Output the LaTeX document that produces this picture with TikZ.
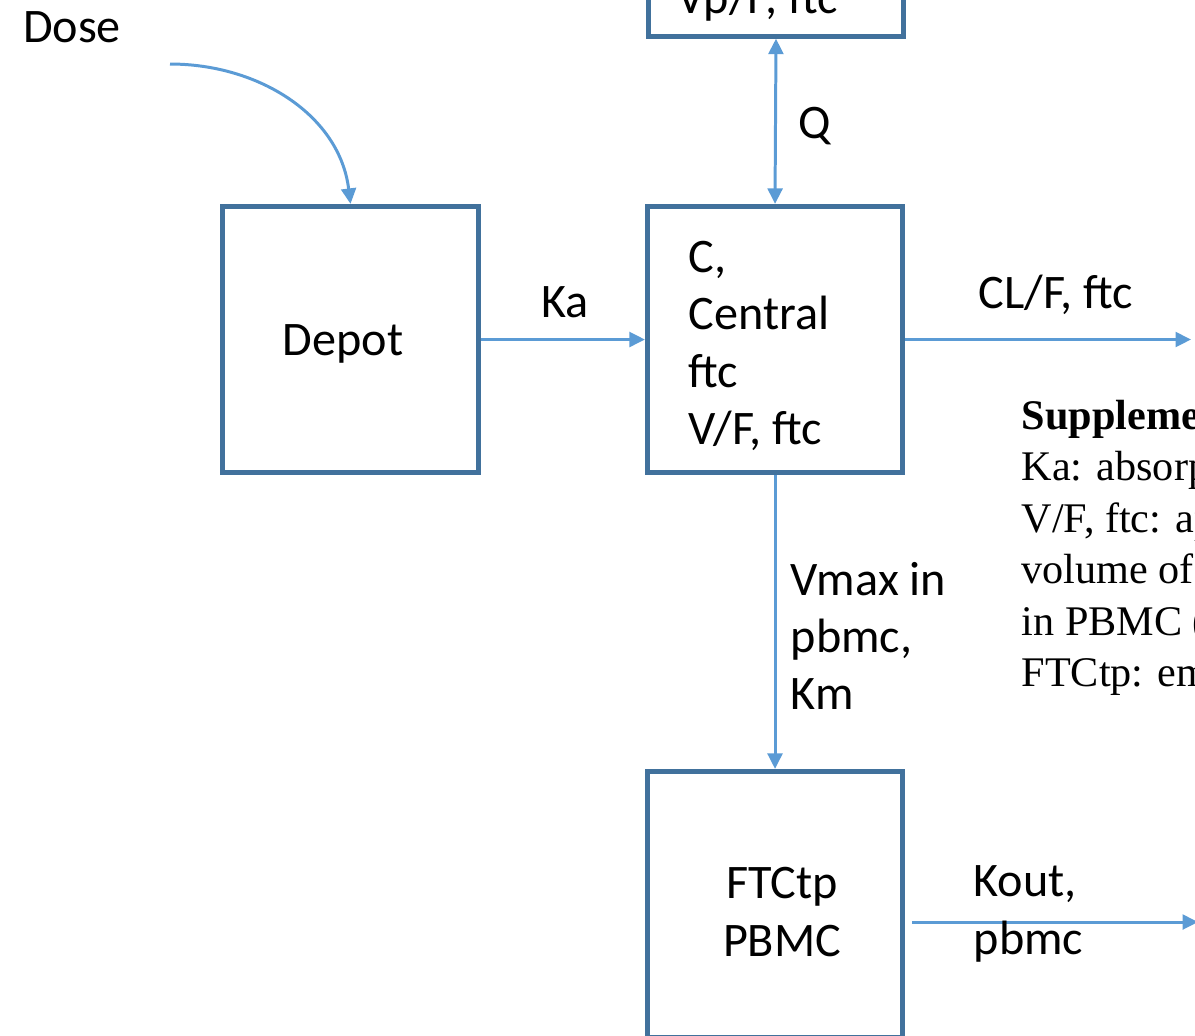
\documentclass[tikz,border=0pt]{standalone}
\usepackage{fontspec}
\setmainfont{Carlito}
\newfontfamily\suppfont{Liberation Serif}
\usetikzlibrary{arrows.meta,calc}
\definecolor{boxblue}{RGB}{65,113,156}
\definecolor{flowblue}{RGB}{91,155,213}
\tikzset{
	compbox/.style={draw=boxblue, line width=1.45pt, minimum width=2.55cm, minimum height=2.66cm, inner sep=0pt},
	flow/.style={draw=flowblue, line width=0.85pt, -{Triangle[width=4.2pt,length=4.4pt]}},
	lbl/.style={inner sep=0pt, font=\fontsize{13.7}{16.3}\selectfont, align=left},
	supp/.style={inner sep=0pt, font=\suppfont\fontsize{12}{14.65}\selectfont, align=left}
}

\begin{document}
\begin{tikzpicture}[x=0.01cm, y=-0.01cm]
		%%%%% START %%%%%
		
		\useasboundingbox (0, 0) rectangle (1195, 1035);
		\clip (0, 0) rectangle (1195, 1035);
		
		% compartments
		\node[compbox] (depot) at (350.5, 339.5) {};
		\node[compbox] (central) at (775, 339.5) {};
		\node[compbox] (peri) at (776, -97) {};
		\node[compbox] (pbmc) at (775, 904.5) {};
		
		\node[lbl] (depottxt) at (343, 344) {Depot};
		\node[lbl, anchor=west] (centraltxt) at (688, 346) {C,\\Central\\ftc\\V/F, ftc};
		\node[lbl, anchor=base west] (peritxt) at (677, 13) {Vp/F, ftc};
		\node[lbl, align=center] (pbmctxt) at (782, 912) {FTCtp\\PBMC};
		
		% dose
		\node[lbl] (dose) at (72, 27) {Dose};
		\coordinate (dosept) at (170, 64);
		\draw[flow] (dosept) to[out=0, in=97] (depot.north);
		
		% flows
		\draw[flow] (depot.east) -- (central.west);
		\node[lbl] (ka) at (565, 302) {Ka};
		
		\draw[flow, {Triangle[width=4.2pt,length=4.4pt]}-{Triangle[width=4.2pt,length=4.4pt]}] (central.north) -- (peri.south);
		\node[lbl] (q) at (815, 126) {Q};
		
		\coordinate (clout) at (1191, 339.5);
		\draw[flow] (central.east) -- (clout);
		\node[lbl] (cl) at (1056, 295) {CL/F, ftc};
		
		\draw[flow] (central.south) -- (pbmc.north);
		\node[lbl, anchor=west] (vmax) at (790, 636) {Vmax in\\pbmc,\\Km};
		
		\coordinate (koutA) at (912, 922);
		\coordinate (koutB) at (1198, 922);
		\draw[flow] (koutA) -- (koutB);
		\node[lbl, anchor=west] (kout) at (973, 914) {Kout,\\pbmc};
		
		% legend
		\node[supp, anchor=north west] (legend) at (1021, 399) {\textbf{Supplementary}\\Ka: absorption\\V/F, ftc: apparent\\volume of\\in PBMC (\\FTCtp: emtricitabine};
		
		%%%%% END %%%%%
	\end{tikzpicture}
\end{document}
